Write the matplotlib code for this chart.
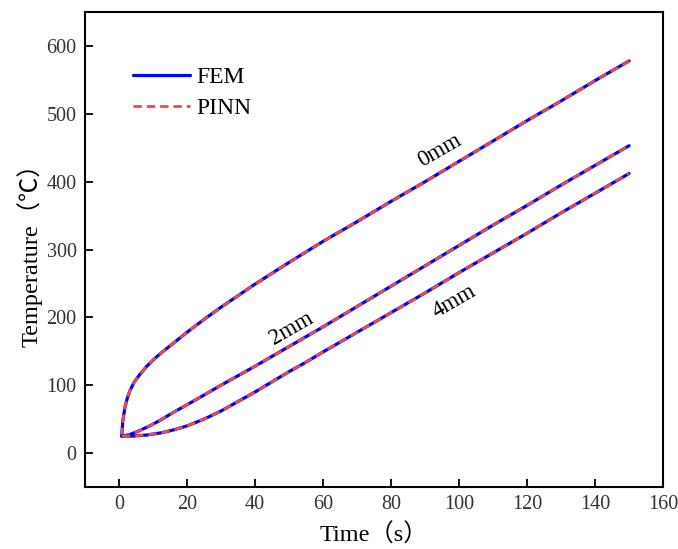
import matplotlib
matplotlib.use("Agg")
import matplotlib.pyplot as plt

plt.rcParams['font.family'] = ['Liberation Serif', 'Noto Sans CJK SC', 'DejaVu Sans']
plt.rcParams['axes.unicode_minus'] = False

# data
t_0mm = [0.8, 1.1, 1.8, 2.5, 3.2, 4.5, 6, 8, 10, 12, 15, 20, 25, 30, 35, 40, 50, 60, 70, 80, 90, 100, 110, 120, 130, 140, 150]
T_0mm = [25, 47, 69, 82, 92, 105, 115, 127, 137, 146, 158, 178, 197, 215, 232, 249, 281, 312, 341, 371, 400, 430, 460, 490, 519, 549, 578]

t_2mm = [0.8, 3, 6, 9, 12, 16, 21, 30, 40, 50, 60, 70, 80, 90, 100, 110, 120, 130, 140, 150]
T_2mm = [25, 27, 33, 40, 48, 60, 74, 100, 128, 157, 186, 216, 246, 276, 306, 336, 365, 395, 424, 453]

t_4mm = [0.8, 4, 8, 12, 16, 20, 25, 30, 35, 40, 45, 50, 55, 60, 70, 80, 90, 100, 110, 120, 130, 140, 150]
T_4mm = [25, 25, 26.5, 29.5, 34, 40, 50, 62, 76, 90, 105, 120, 134, 149, 178, 207, 236, 266, 295, 324, 354, 383, 412]

labels = ["0mm", "2mm", "4mm"]
label_pos = [(94.4, 446), (50.6, 183), (98.5, 224)]

fig = plt.figure(figsize=(6.78, 5.49), dpi=100)
ax = fig.add_axes([0.1254, 0.113, 0.978 - 0.1254, 0.978 - 0.113])

blue = '#0000ff'
red = '#f04848'
for i, (t, T) in enumerate([(t_0mm, T_0mm), (t_2mm, T_2mm), (t_4mm, T_4mm)]):
    ax.plot(t, T, color=blue, lw=2.3, label='FEM' if i == 0 else None, solid_capstyle='round')
    ax.plot(t, T, color=red, lw=2.0, ls=(0, (3, 1.8)), label='PINN' if i == 0 else None)

for lab, (x, y) in zip(labels, label_pos):
    ax.text(x, y, lab, rotation=30, ha='center', va='center', fontsize=16.5)

ax.set_xlim(-10, 160)
ax.set_ylim(-50, 650)
ax.set_xticks(range(0, 161, 20))
ax.set_yticks(range(0, 601, 100))
ax.tick_params(direction='in', length=6, width=1.3, labelsize=14.5, colors='black',
               labelcolor='#333333', pad=6)
for s in ax.spines.values():
    s.set_linewidth(1.5)

ax.set_xlabel('Time（s）', fontsize=17.5, labelpad=7)
ax.set_ylabel('Temperature（℃）', fontsize=17.5, labelpad=3)

leg = ax.legend(loc='upper left', bbox_to_anchor=(0.046, 0.93), frameon=False, fontsize=17,
                handlelength=2.4, handletextpad=0.3, labelspacing=0.4)

fig.savefig('out.png', dpi=100)
